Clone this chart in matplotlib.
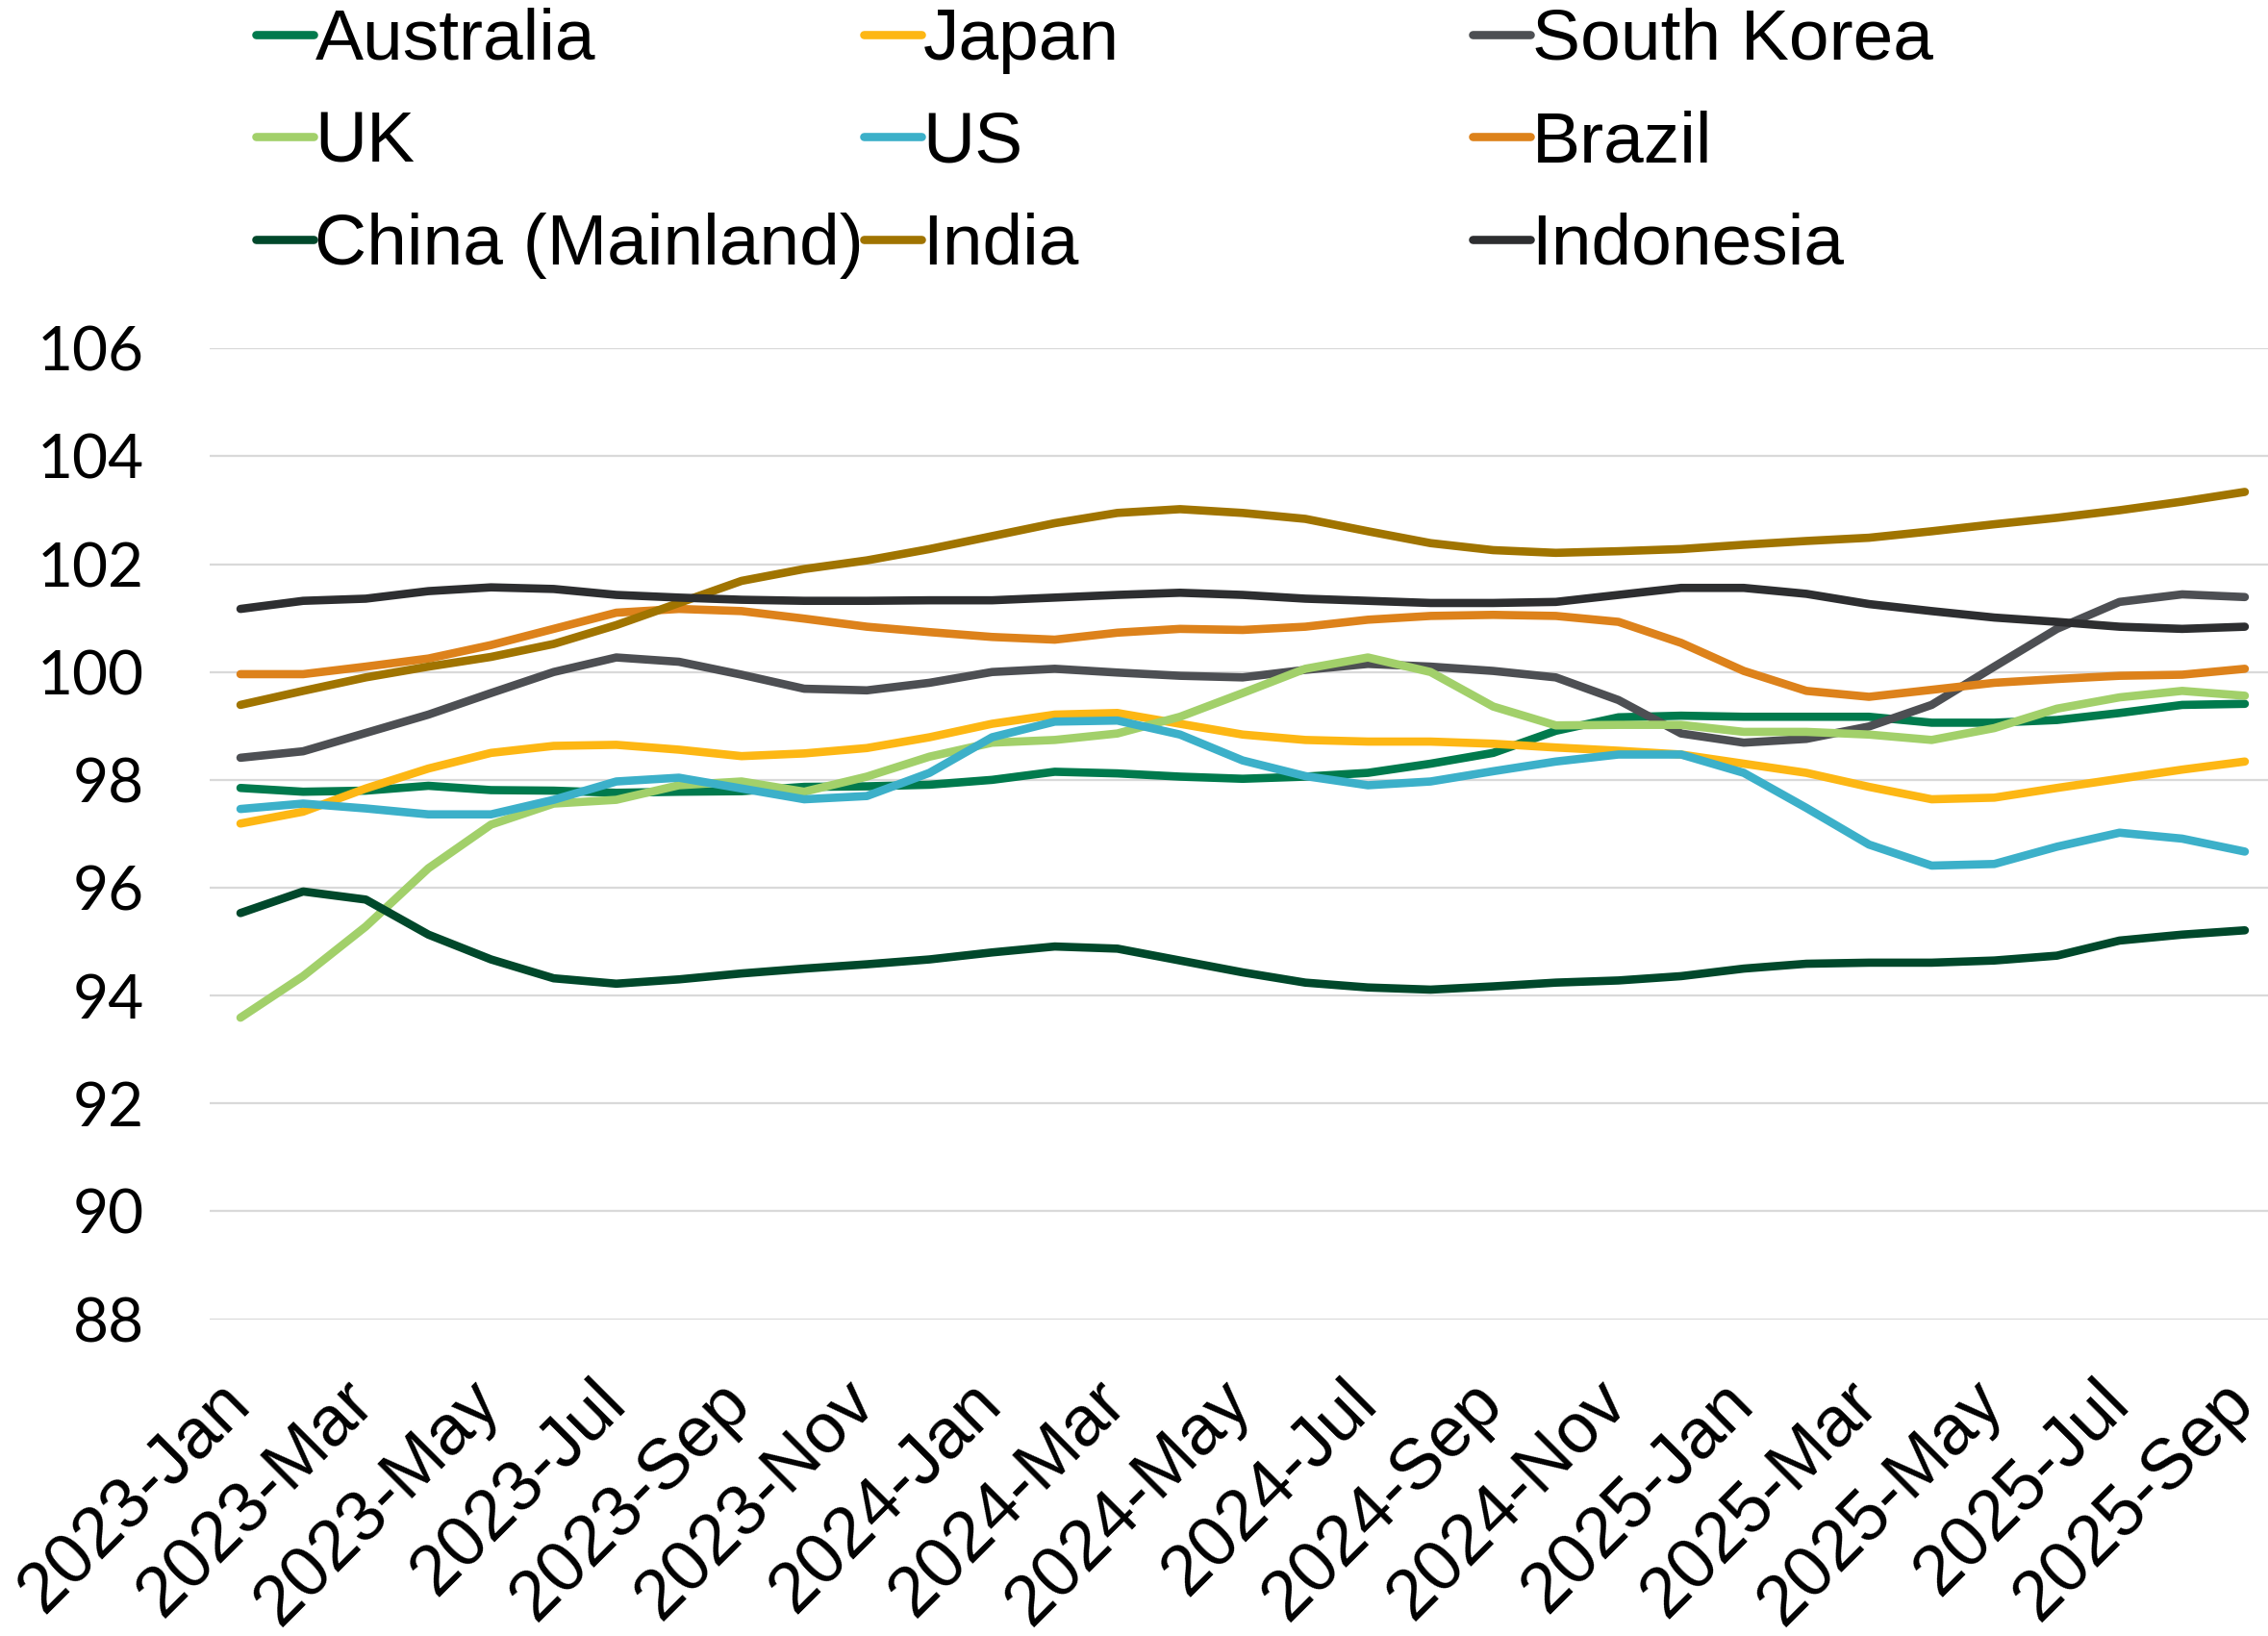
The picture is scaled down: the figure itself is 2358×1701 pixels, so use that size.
import matplotlib
matplotlib.use("Agg")
import matplotlib.pyplot as plt
from matplotlib.transforms import ScaledTranslation
import numpy as np

months = ["Jan", "Feb", "Mar", "Apr", "May", "Jun", "Jul", "Aug", "Sep", "Oct", "Nov", "Dec"]
dates = [f"{y}-{m}" for y in (2023, 2024, 2025) for m in months][:33]

australia = [97.85, 97.78, 97.80, 97.89, 97.81, 97.80, 97.76, 97.78, 97.79, 97.87, 97.88,
             97.91, 98.00, 98.15, 98.12, 98.06, 98.02, 98.06, 98.13, 98.30, 98.50, 98.91,
             99.16, 99.19, 99.17, 99.17, 99.17, 99.06, 99.06, 99.11, 99.24, 99.39, 99.41]
japan = [97.19, 97.41, 97.84, 98.21, 98.50, 98.63, 98.65, 98.56, 98.44, 98.49, 98.59,
         98.79, 99.04, 99.21, 99.24, 99.04, 98.84, 98.74, 98.71, 98.71, 98.67, 98.60,
         98.54, 98.47, 98.30, 98.13, 97.87, 97.64, 97.67, 97.85, 98.02, 98.19, 98.34]
south_korea = [98.41, 98.53, 98.87, 99.21, 99.61, 100.00, 100.27, 100.19, 99.95, 99.69, 99.66,
               99.80, 100.00, 100.06, 99.99, 99.93, 99.90, 100.04, 100.15, 100.10, 100.02, 99.90,
               99.48, 98.86, 98.69, 98.76, 98.99, 99.39, 100.10, 100.80, 101.30, 101.44, 101.39]
uk = [93.59, 94.36, 95.28, 96.36, 97.17, 97.56, 97.63, 97.90, 97.97, 97.78, 98.06,
      98.43, 98.69, 98.74, 98.86, 99.17, 99.61, 100.06, 100.27, 100.00, 99.36, 99.01,
      99.02, 99.02, 98.89, 98.89, 98.84, 98.74, 98.96, 99.32, 99.53, 99.65, 99.56]
us = [97.46, 97.56, 97.47, 97.36, 97.36, 97.63, 97.97, 98.04, 97.84, 97.64, 97.70,
      98.13, 98.79, 99.08, 99.10, 98.84, 98.36, 98.07, 97.90, 97.97, 98.16, 98.34,
      98.47, 98.47, 98.13, 97.48, 96.80, 96.41, 96.44, 96.76, 97.02, 96.91, 96.67]
brazil = [99.96, 99.96, 100.10, 100.25, 100.50, 100.80, 101.10, 101.17, 101.13, 100.99, 100.84,
          100.74, 100.65, 100.60, 100.73, 100.80, 100.78, 100.84, 100.97, 101.04, 101.06, 101.04,
          100.93, 100.54, 100.02, 99.65, 99.54, 99.67, 99.80, 99.87, 99.93, 99.95, 100.06]
china = [95.53, 95.93, 95.78, 95.13, 94.67, 94.32, 94.22, 94.30, 94.41, 94.50, 94.58,
         94.67, 94.80, 94.91, 94.87, 94.65, 94.43, 94.24, 94.15, 94.11, 94.17, 94.24,
         94.28, 94.36, 94.50, 94.59, 94.61, 94.61, 94.65, 94.74, 95.02, 95.13, 95.21]
india = [99.39, 99.65, 99.90, 100.10, 100.28, 100.52, 100.87, 101.28, 101.69, 101.91, 102.07,
         102.28, 102.52, 102.76, 102.95, 103.02, 102.95, 102.84, 102.61, 102.39, 102.26, 102.21,
         102.24, 102.28, 102.36, 102.43, 102.49, 102.61, 102.74, 102.86, 103.00, 103.16, 103.34]
indonesia = [101.17, 101.32, 101.36, 101.50, 101.57, 101.54, 101.43, 101.38, 101.34, 101.32, 101.32,
             101.33, 101.33, 101.38, 101.43, 101.47, 101.43, 101.36, 101.32, 101.28, 101.28, 101.30,
             101.43, 101.56, 101.56, 101.45, 101.26, 101.13, 101.01, 100.93, 100.84, 100.80, 100.84]

names = ["Australia", "Japan", "South Korea", "UK", "US", "Brazil",
         "China (Mainland)", "India", "Indonesia"]
series = [australia, japan, south_korea, uk, us, brazil, china, india, indonesia]
colors = ["#007A4D", "#FDB714", "#4D4F53", "#A2D06A", "#3CB0C9", "#DD821B",
          "#00482B", "#A07400", "#2D2E30"]

fig = plt.figure(figsize=(23.58, 17.01), dpi=100)
ax = fig.add_axes([0.0925, 0.1937, 0.9075, 0.5933])

x = np.arange(len(dates))
lines = {}
for name, vals, c in zip(names, series, colors):
    ln, = ax.plot(x, vals, color=c, lw=6.2, solid_capstyle="round", solid_joinstyle="round")
    lines[name] = ln

ax.set_xlim(-0.49, 32.37)
ax.set_ylim(88, 106)
ax.set_yticks(np.arange(88, 107, 2))
ax.grid(axis="y", color="#d9d9d9", lw=1.6)
ax.set_axisbelow(True)
for s in ax.spines.values():
    s.set_visible(False)

ax.set_xticks(x[::2])
ax.set_xticklabels(dates[::2], rotation=45, ha="right", rotation_mode="anchor")
ax.tick_params(axis="x", length=0, pad=37)
ax.tick_params(axis="y", length=0, pad=49)
shift = ScaledTranslation(-19 / 72, 0, fig.dpi_scale_trans)
for lab in ax.get_xticklabels():
    lab.set_family("Liberation Sans")
    lab.set_fontsize(53)
    lab.set_transform(lab.get_transform() + shift)
for lab in ax.get_yticklabels():
    lab.set_family("Lato")
    lab.set_fontsize(46)

# legend laid out in three columns like the original
cols = [["Australia", "UK", "China (Mainland)"],
        ["Japan", "US", "India"],
        ["South Korea", "Brazil", "Indonesia"]]
col_x = [0.1128, 0.3808, 0.6493]
for cx, col in zip(col_x, cols):
    fig.legend([lines[n] for n in col], col, loc="upper left", bbox_to_anchor=(cx, 0.9953),
               frameon=False, prop={"family": "Liberation Sans", "size": 54},
               handlelength=0.8, handletextpad=0.02, labelspacing=0.5,
               borderaxespad=0, borderpad=0)

fig.savefig("out.png", dpi=100)
